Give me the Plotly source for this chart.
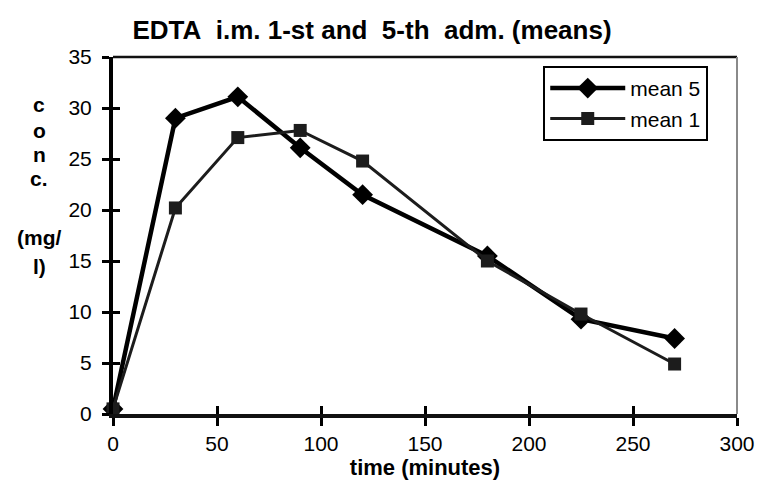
import plotly.graph_objects as go

# Sampling times (minutes) and mean concentrations (mg/l)
time_min = [0, 30, 60, 90, 120, 180, 225, 270]
mean_5 = [0.5, 29.0, 31.1, 26.1, 21.5, 15.5, 9.3, 7.4]
mean_1 = [0.5, 20.2, 27.1, 27.8, 24.8, 15.0, 9.8, 4.9]

x_ticks = [0, 50, 100, 150, 200, 250, 300]
y_ticks = [0, 5, 10, 15, 20, 25, 30, 35]

FONT = "Liberation Sans, Arial, sans-serif"
NB = "\u00a0"

fig = go.Figure()

fig.add_trace(go.Scatter(
    x=time_min, y=mean_5, name="mean 5", mode="lines+markers",
    line=dict(color="#000000", width=4.5),
    marker=dict(symbol="diamond", size=16, color="#000000"),
    cliponaxis=False,
))
fig.add_trace(go.Scatter(
    x=time_min, y=mean_1, name="mean 1", mode="lines+markers",
    line=dict(color="#1c1c1c", width=3),
    marker=dict(symbol="square", size=13, color="#1c1c1c"),
    cliponaxis=False,
))

axis_font = dict(family=FONT, size=21, color="#000000")

fig.update_layout(
    width=767, height=489,
    margin=dict(l=113, r=26, t=57, b=75),
    paper_bgcolor="white", plot_bgcolor="white",
    showlegend=True,
    legend=dict(
        x=(546 - 113) / 628, y=0.975, xanchor="left", yanchor="top",
        bordercolor="#000000", borderwidth=2, bgcolor="white",
        font=dict(family=FONT, size=21, color="#000000"),
        itemwidth=75, tracegroupgap=0,
    ),
    title=dict(
        text=f"<b>EDTA{NB}{NB}i.m. 1-st and{NB}{NB}5-th{NB}{NB}adm. (means)</b>",
        font=dict(family=FONT, size=26, color="#000000"),
        x=372 / 767, xanchor="center", y=1 - 30 / 489, yanchor="middle",
    ),
    xaxis=dict(
        range=[0, 300], tickvals=x_ticks, ticks="outside", ticklen=8,
        tickwidth=3, tickcolor="#000000", showgrid=False, zeroline=False,
        showline=True, linecolor="#111111", linewidth=4, mirror=False,
        tickfont=axis_font,
        title=dict(text="<b>time (minutes)</b>", standoff=2,
                   font=dict(family=FONT, size=22, color="#000000")),
    ),
    yaxis=dict(
        range=[0, 35], tickvals=y_ticks, ticks="outside", ticklen=7,
        tickwidth=3, tickcolor="#000000", showgrid=False, zeroline=False,
        showline=True, linecolor="#000000", linewidth=4,
        tickfont=axis_font, ticklabelstandoff=6,
    ),
    # overlaid axes supply the inner half of the crossing tick marks
    xaxis2=dict(range=[0, 300], tickvals=x_ticks, ticks="inside", ticklen=8,
                tickwidth=3, tickcolor="#000000", showticklabels=False,
                showgrid=False, zeroline=False, overlaying="x", side="bottom",
                showline=False),
    yaxis2=dict(range=[0, 35], tickvals=y_ticks, ticks="inside", ticklen=7,
                tickwidth=3, tickcolor="#000000", showticklabels=False,
                showgrid=False, zeroline=False, overlaying="y", side="left",
                showline=False),
)

# invisible trace to activate the overlaid axes
fig.add_trace(go.Scatter(x=[0], y=[0], xaxis="x2", yaxis="y2", mode="markers",
                         marker=dict(size=1, opacity=0),
                         showlegend=False, hoverinfo="skip"))

# plot-area frame: dark top edge, grey right edge
fig.add_shape(type="line", xref="paper", yref="paper", x0=0, x1=1, y0=1, y1=1,
              line=dict(color="#111111", width=2.5))
fig.add_shape(type="line", xref="paper", yref="paper", x0=1, x1=1, y0=0, y1=1,
              line=dict(color="#8a8a8a", width=2))

# stacked y-axis caption
caption = [("c", 104), ("o", 130), ("n", 154), ("c.", 178), ("(mg/", 237), ("l)", 266)]
for txt, ypx in caption:
    fig.add_annotation(
        text=f"<b>{txt}</b>", xref="paper", yref="paper",
        x=(39 - 113) / 628, y=(414 - ypx) / 357,
        xanchor="center", yanchor="middle", showarrow=False,
        font=dict(family=FONT, size=21, color="#000000"),
    )

fig.write_html("out.html")
